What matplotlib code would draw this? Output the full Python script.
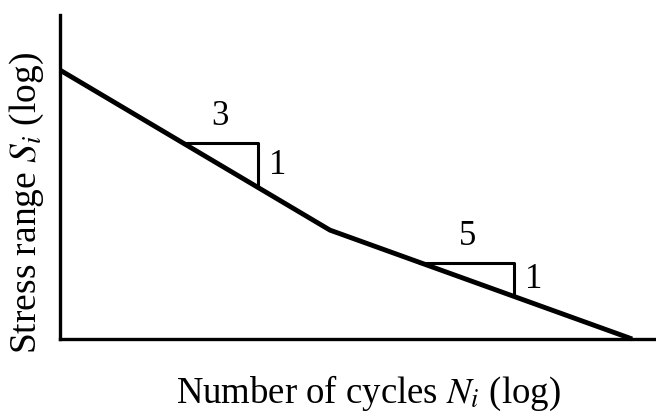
import numpy as np
import matplotlib.pyplot as plt

plt.rcParams['font.family'] = ['Liberation Serif', 'DejaVu Serif']
plt.rcParams['mathtext.fontset'] = 'stix'

# bilinear S-N curve in log units (log N, log S)
logN = [0.0, 4.53, 9.6]
logS = [8.3, 3.36, 0.0]

# slope markers: start / end of the horizontal leg, and the slope label
tri_x0 = [2.06, 6.04]
tri_x1 = [3.32, 7.62]
run_labels = ['3', '5']
rise_labels = ['1', '1']

fig = plt.figure(figsize=(6.56, 4.12), dpi=100)
ax = fig.add_axes([60 / 656, 73 / 412, 596 / 656, 324 / 412])
ax.set_xlim(0, 10)
ax.set_ylim(0, 10)

ax.plot(logN, logS, color='black', lw=3.5, solid_capstyle='butt', clip_on=False)

for x0, x1, run, rise in zip(tri_x0, tri_x1, run_labels, rise_labels):
    y0 = np.interp(x0, logN, logS)
    y1 = np.interp(x1, logN, logS)
    ax.plot([x0, x1, x1], [y0, y0, y1], color='black', lw=2.2)
    ax.text((x0 + x1) / 2, y0 + 0.8, run, ha='center', va='center', fontsize=25)
    ax.text(x1 + 0.33, (y0 + y1) / 2, rise, ha='center', va='center', fontsize=25)

for side in ['top', 'right']:
    ax.spines[side].set_visible(False)
for side in ['left', 'bottom']:
    ax.spines[side].set_linewidth(2.4)
ax.set_xticks([])
ax.set_yticks([])

fig.text(368 / 656, 9 / 412, 'Number of cycles $N_i$ (log)', fontsize=26.5,
         ha='center', va='baseline')
fig.text(27 / 656, 1 - 203 / 412, 'Stress range $S_i$ (log)', fontsize=27,
         ha='center', va='center', rotation=90)

fig.savefig('out.png', dpi=100)
